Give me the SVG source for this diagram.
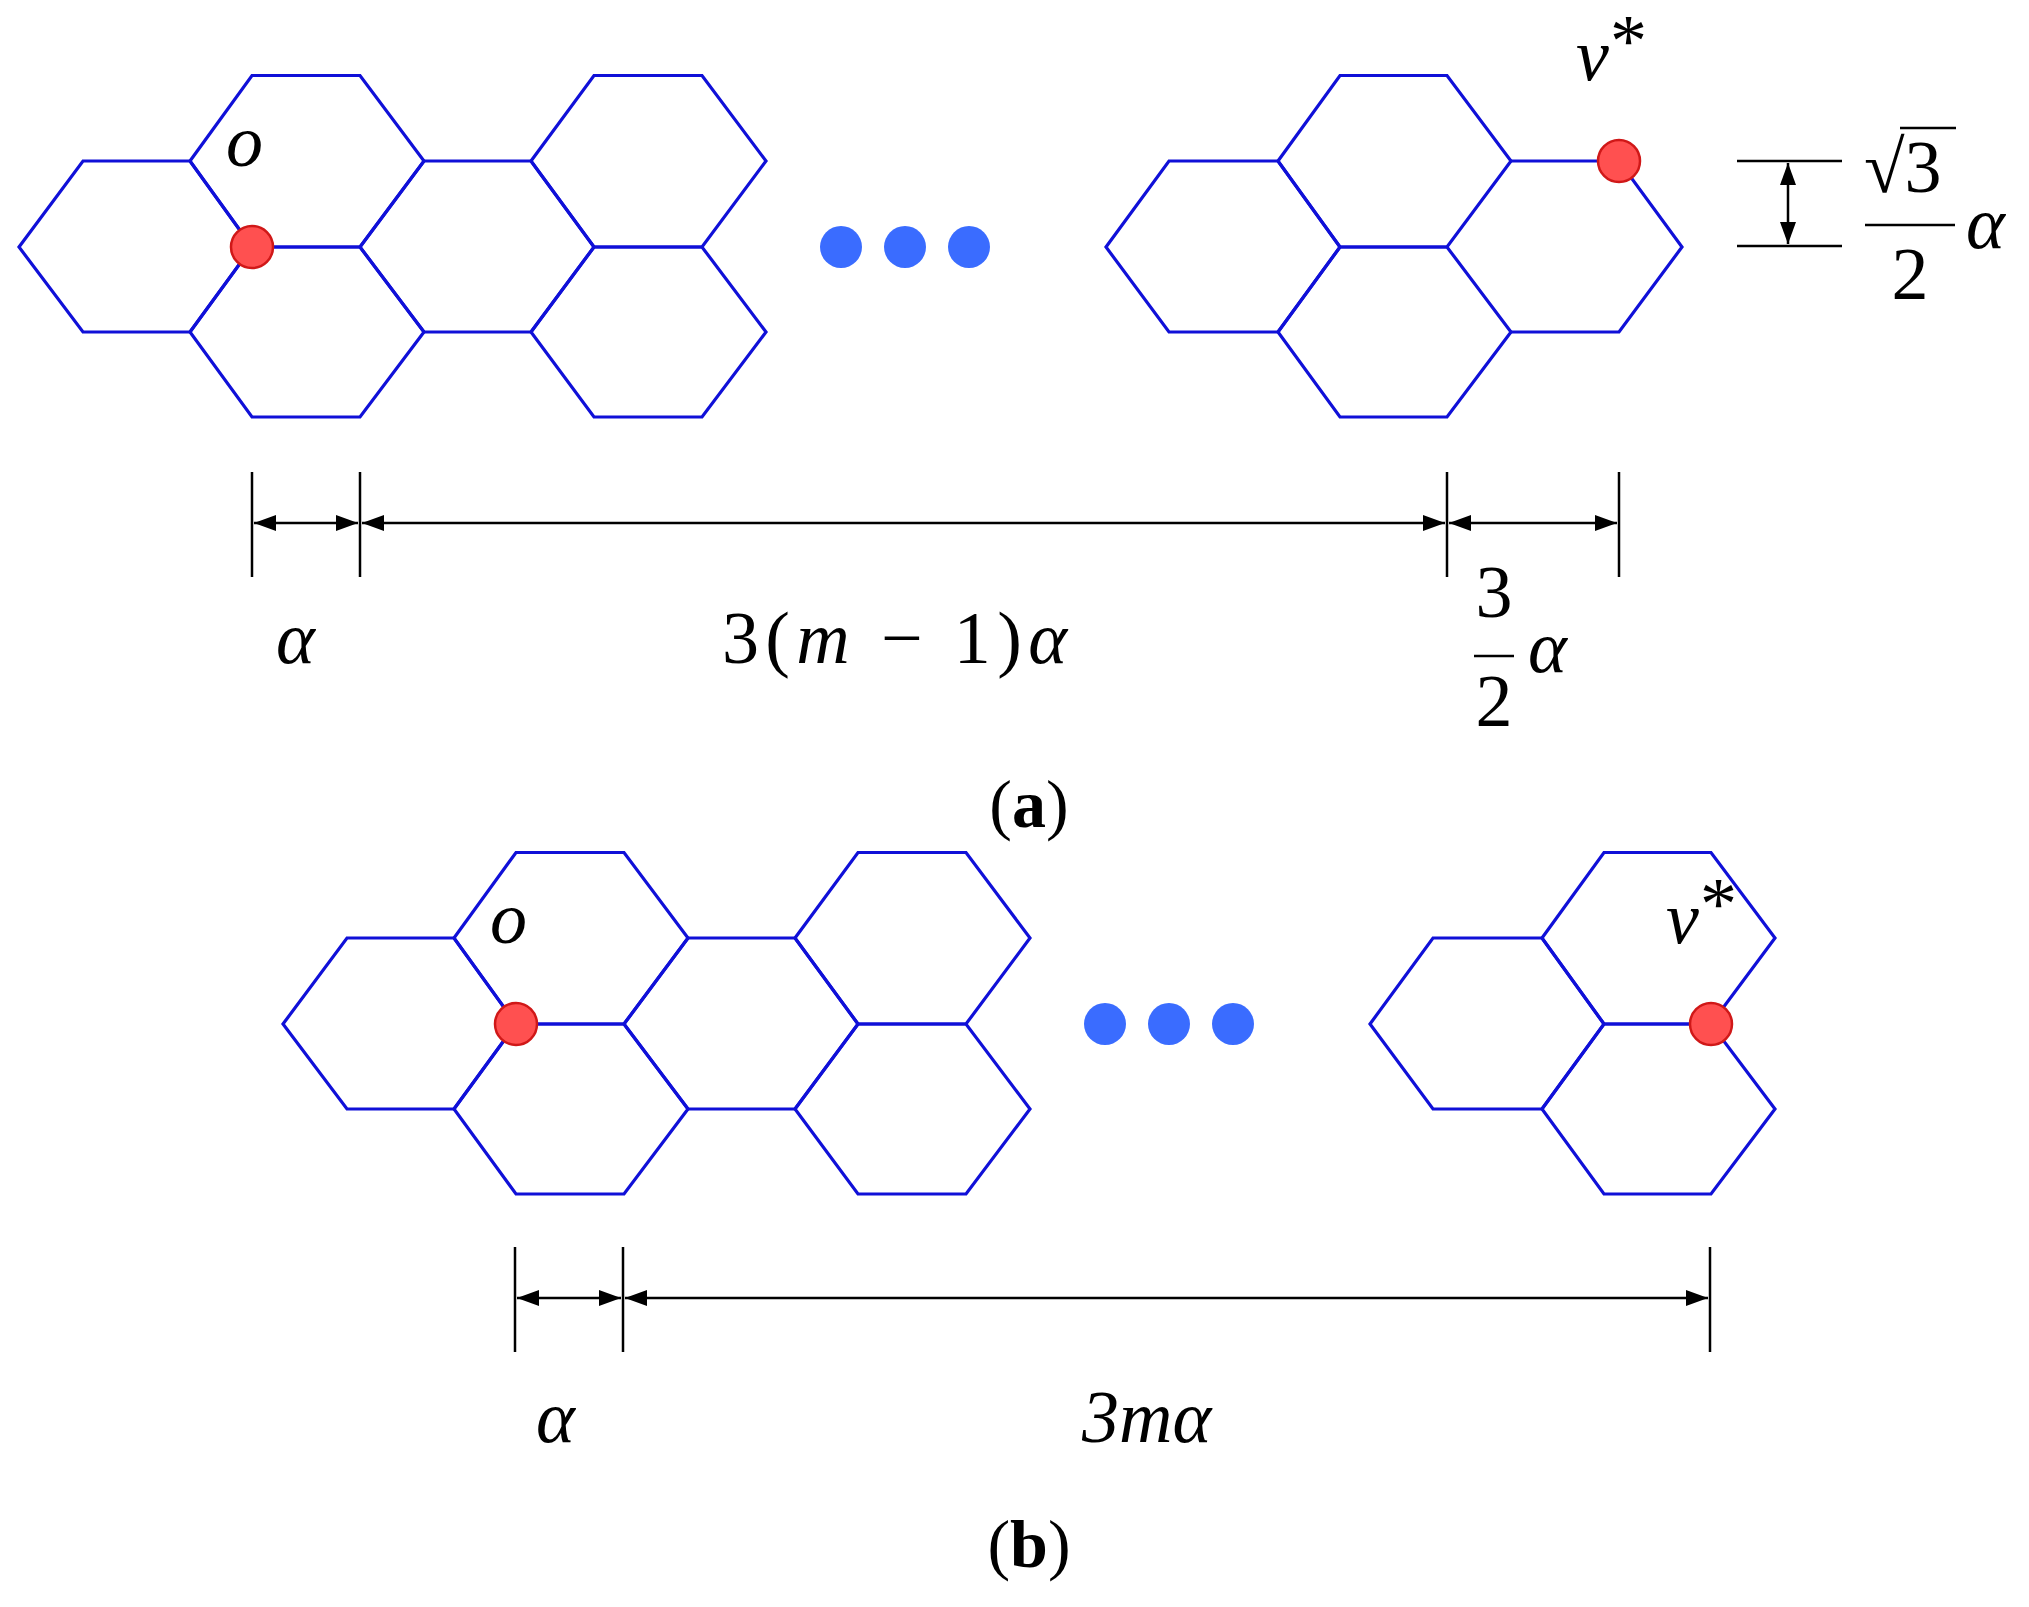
<svg xmlns="http://www.w3.org/2000/svg" width="2029" height="1607" viewBox="0 0 2029 1607">
<defs>
<style>
.hex{fill:none;stroke:#1010d8;stroke-width:3.2;stroke-linejoin:miter}
.red{fill:#ff5050;stroke:#d01818;stroke-width:2.5}
.blue{fill:#3a6cff}
.dim{stroke:#000;stroke-width:2.5;fill:none}
.dl{stroke:#000;stroke-width:2.5;fill:none;marker-start:url(#ah);marker-end:url(#ah)}
.m{font-family:"Liberation Serif",serif;font-style:italic;font-size:74px;fill:#000}
.n{font-family:"Liberation Serif",serif;font-size:74px;fill:#000}
.cap{font-family:"Liberation Serif",serif;font-size:68px;fill:#000}
</style>
<marker id="ah" viewBox="0 0 10 10" refX="10" refY="5" markerWidth="22" markerHeight="20" orient="auto-start-reverse" markerUnits="userSpaceOnUse" preserveAspectRatio="none">
<path d="M0,1 L10,5 L0,9 z" fill="#000"/>
</marker>
<g id="leftHexes">
<polygon class="hex" points="19,247 83,161 190,161 252,247 190,332 83,332"/>
<polygon class="hex" points="190,161 252,75.5 360,75.5 424,161 360,247 252,247"/>
<polygon class="hex" points="190,332 252,247 360,247 424,332 360,417 252,417"/>
<polygon class="hex" points="360,247 424,161 531,161 594,247 531,332 424,332"/>
<polygon class="hex" points="531,161 594,75.5 702,75.5 766,161 702,247 594,247"/>
<polygon class="hex" points="531,332 594,247 702,247 766,332 702,417 594,417"/>
</g>
<g id="rightHexes">
<polygon class="hex" points="1106,247 1169,161 1278,161 1340,247 1278,332 1169,332"/>
<polygon class="hex" points="1278,161 1340,75.5 1447,75.5 1511,161 1447,247 1340,247"/>
<polygon class="hex" points="1278,332 1340,247 1447,247 1511,332 1447,417 1340,417"/>
</g>
<g id="dots">
<circle class="blue" cx="841" cy="247" r="21"/>
<circle class="blue" cx="905" cy="247" r="21"/>
<circle class="blue" cx="969" cy="247" r="21"/>
</g>
</defs>

<g id="panel-a">
<g id="a-left"><use href="#leftHexes"/></g>
<g id="a-dots"><use href="#dots"/></g>
<g id="a-right"><use href="#rightHexes"/>
<polyline class="hex" points="1511,161 1619,161 1682,247 1619,332 1511,332"/></g>
<g id="a-o"><circle class="red" cx="252" cy="247" r="21"/><text class="m" x="226" y="166">o</text></g>
<g id="a-v"><circle class="red" cx="1619" cy="161" r="21"/><text class="m" x="1576" y="80">v</text><text class="n" x="1610" y="66" font-size="46">*</text></g>
</g>

<g id="connectors">
<g id="dim-a">
<line class="dim" x1="252" y1="472" x2="252" y2="577"/>
<line class="dim" x1="360" y1="472" x2="360" y2="577"/>
<line class="dim" x1="1447" y1="472" x2="1447" y2="577"/>
<line class="dim" x1="1619" y1="472" x2="1619" y2="577"/>
<line class="dl" x1="254" y1="523" x2="358" y2="523"/>
<line class="dl" x1="362" y1="523" x2="1445" y2="523"/>
<line class="dl" x1="1449" y1="523" x2="1617" y2="523"/>
<line class="dim" x1="1737" y1="161" x2="1842" y2="161"/>
<line class="dim" x1="1737" y1="246" x2="1842" y2="246"/>
<line class="dl" x1="1788" y1="163" x2="1788" y2="244"/>
</g>
<g id="dim-b">
<line class="dim" x1="515" y1="1247" x2="515" y2="1352"/>
<line class="dim" x1="623" y1="1247" x2="623" y2="1352"/>
<line class="dim" x1="1710" y1="1247" x2="1710" y2="1352"/>
<line class="dl" x1="517" y1="1298" x2="621" y2="1298"/>
<line class="dl" x1="625" y1="1298" x2="1708" y2="1298"/>
</g>
</g>

<g id="labels-a">
<text class="m" x="276" y="663">α</text>
<text class="n" x="722" y="663" textLength="345" lengthAdjust="spacing">3(<tspan font-style="italic">m</tspan> − 1)<tspan font-style="italic">α</tspan></text>
<text class="n" x="1494" y="617" text-anchor="middle">3</text>
<line class="dim" x1="1474" y1="656" x2="1514" y2="656" stroke-width="5"/>
<text class="n" x="1494" y="726" text-anchor="middle">2</text>
<text class="m" x="1528" y="672">α</text>
<text class="n" x="1864" y="192">√3</text>
<line class="dim" x1="1900" y1="128" x2="1956" y2="128" stroke-width="3.5"/>
<line class="dim" x1="1865" y1="225" x2="1955" y2="225" stroke-width="5"/>
<text class="n" x="1910" y="299" text-anchor="middle">2</text>
<text class="m" x="1966" y="248">α</text>
<text class="cap" x="1029" y="827" text-anchor="middle">(<tspan font-weight="bold">a</tspan>)</text>
</g>

<g id="panel-b" transform="translate(264,777)">
<g id="b-left"><use href="#leftHexes"/></g>
<g id="b-dots"><use href="#dots"/></g>
<g id="b-right"><use href="#rightHexes"/></g>
<g id="b-o"><circle class="red" cx="252" cy="247" r="21"/><text class="m" x="226" y="166">o</text></g>
<g id="b-v"><circle class="red" cx="1447" cy="247" r="21"/><text class="m" x="1402" y="166">v</text><text class="n" x="1436" y="152" font-size="46">*</text></g>
</g>

<g id="labels-b">
<text class="m" x="536" y="1442">α</text>
<text class="m" x="1082" y="1442">3mα</text>
<text class="cap" x="1029" y="1567" text-anchor="middle">(<tspan font-weight="bold">b</tspan>)</text>
</g>
</svg>
